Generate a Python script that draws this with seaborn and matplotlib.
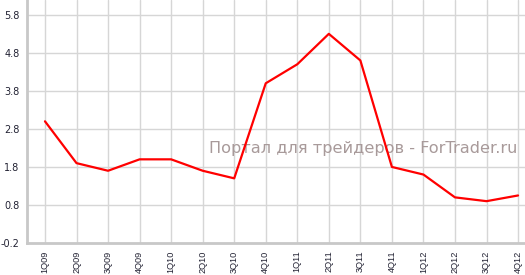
import matplotlib
matplotlib.use("Agg")
import matplotlib.pyplot as plt
import seaborn as sns
import pandas as pd

quarters = ["1Q09", "2Q09", "3Q09", "4Q09", "1Q10", "2Q10", "3Q10", "4Q10",
            "1Q11", "2Q11", "3Q11", "4Q11", "1Q12", "2Q12", "3Q12", "4Q12"]
values = [3.0, 1.9, 1.7, 2.0, 2.0, 1.7, 1.5, 4.0,
          4.5, 5.3, 4.6, 1.8, 1.6, 1.0, 0.9, 1.05]
yticks = [-0.2, 0.8, 1.8, 2.8, 3.8, 4.8, 5.8]
watermark = "Портал для трейдеров - ForTrader.ru"

df = pd.DataFrame({"quarter": quarters, "value": values})

sns.set_style("white")
plt.rcParams["font.family"] = ["DejaVu Sans"]

fig = plt.figure(figsize=(5.25, 2.75), dpi=100)
ax = fig.add_axes([27 / 525, 1 - 243 / 275, 1 - 27 / 525, 243 / 275])

sns.lineplot(data=df, x="quarter", y="value", ax=ax, color="#ff0000",
             linewidth=1.6, sort=False, zorder=3)

ax.set_xlim(-0.57, 15.22)
ax.set_ylim(-0.2, 6.19)
ax.set_yticks(yticks)
ax.set_yticklabels([f"{v:.1f}" for v in yticks])
ax.set_xticks(range(len(quarters)))
ax.set_xticklabels(quarters, rotation=90, family=["Liberation Sans"])
ax.set_xlabel("")
ax.set_ylabel("")

ax.grid(True, color="#d6d6d6", linewidth=1)
ax.set_axisbelow(True)
for s in ["top", "right"]:
    ax.spines[s].set_visible(False)
for s in ["left", "bottom"]:
    ax.spines[s].set_color("#c8c8c8")
    ax.spines[s].set_linewidth(2)
ax.tick_params(axis="both", colors="#c8c8c8", length=4, width=1,
               labelcolor="#222233", pad=1.5)
ax.tick_params(axis="y", labelsize=7)
ax.tick_params(axis="x", labelsize=6.6)

ax.text(0.985, 0.39, watermark, transform=ax.transAxes, ha="right",
        va="center", fontsize=11.6, color="#a89a9a", zorder=2)

fig.savefig("out.png", dpi=100)
